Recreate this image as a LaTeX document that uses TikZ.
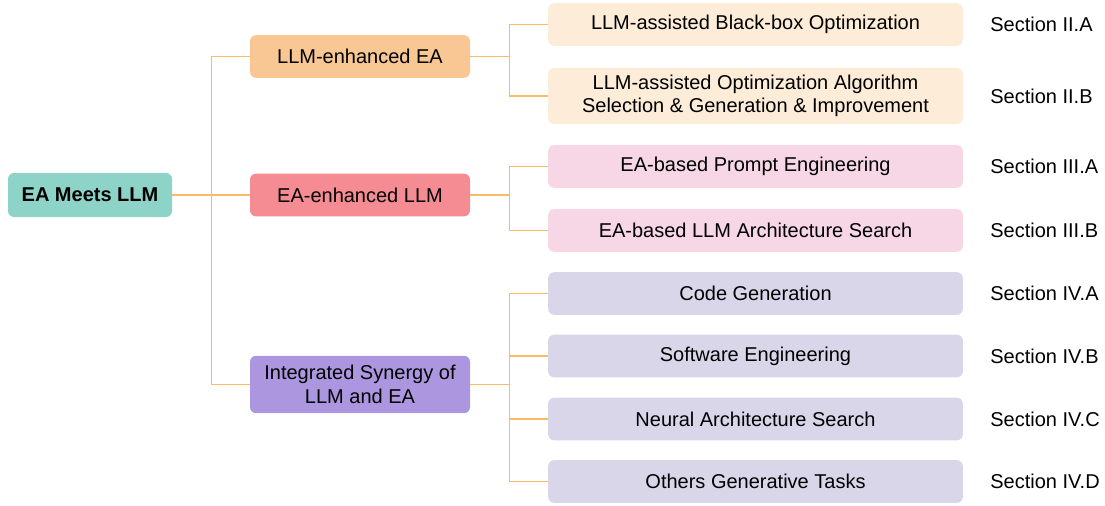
\documentclass[tikz,border=0pt]{standalone}
\usepackage{fontspec}
\setmainfont{Liberation Sans}
\definecolor{rootc}{HTML}{8DD3C7}
\definecolor{orgc}{HTML}{F9C794}
\definecolor{redc}{HTML}{F58B93}
\definecolor{purc}{HTML}{AC96DF}
\definecolor{orgl}{HTML}{FDECD7}
\definecolor{redl}{HTML}{F7D7E5}
\definecolor{purl}{HTML}{DAD6EA}
\definecolor{linec}{HTML}{FBBA64}
\begin{document}
\begin{tikzpicture}[x=0.75pt,y=-0.75pt,
	box/.style={rounded corners=4.5pt,align=center,inner sep=0pt,font=\fontsize{15}{17.5}\selectfont},
	topbox/.style={box,fill=rootc,minimum width=123pt,minimum height=33pt,font=\fontsize{15}{17.5}\selectfont\bfseries},
	midbox/.style={box,minimum width=165pt,minimum height=32pt},
	leafbox/.style={box,minimum width=311pt,minimum height=32pt},
	sec/.style={anchor=west,inner sep=0pt,font=\fontsize{15}{17.5}\selectfont},
	link/.style={draw=linec,line width=1.1pt}]
	\useasboundingbox (0,0) rectangle (1105,506);
	% root and first level
	\node[topbox] (root) at (90,195) {EA Meets LLM};
	\node[midbox,fill=orgc] (llmea) at (360,56.5) {LLM-enhanced EA};
	\node[midbox,fill=redc] (eallm) at (360,195) {EA-enhanced LLM};
	\node[midbox,fill=purc,minimum height=43pt] (syn) at (360,384.5) {Integrated Synergy of\\LLM and EA};
	% second level
	\node[leafbox,fill=orgl] (bbo) at (755.5,24.5) {LLM-assisted Black-box Optimization};
	\node[leafbox,fill=orgl,minimum height=42pt] (algo) at (755.5,96) {LLM-assisted Optimization Algorithm\\Selection \& Generation \& Improvement};
	\node[leafbox,fill=redl] (prompt) at (755.5,166.5) {EA-based Prompt Engineering};
	\node[leafbox,fill=redl] (arch) at (755.5,230.5) {EA-based LLM Architecture Search};
	\node[leafbox,fill=purl] (code) at (755.5,293.5) {Code Generation};
	\node[leafbox,fill=purl] (soft) at (755.5,356) {Software Engineering};
	\node[leafbox,fill=purl] (nas) at (755.5,419) {Neural Architecture Search};
	\node[leafbox,fill=purl] (other) at (755.5,481.5) {Others Generative Tasks};
	% section labels
	\foreach \n/\t in {bbo/II.A,algo/II.B,prompt/III.A,arch/III.B,code/IV.A,soft/IV.B,nas/IV.C,other/IV.D}
		\node[sec] (s-\n) at ([xshift=20.25pt]\n.east) {Section \t};
	% connectors
	\foreach \c in {llmea,eallm,syn}
		\draw[link] (root.east) -- ++(29.25pt,0) |- (\c.west);
	\foreach \c in {bbo,algo}
		\draw[link] (llmea.east) -- ++(29.25pt,0) |- (\c.west);
	\foreach \c in {prompt,arch}
		\draw[link] (eallm.east) -- ++(29.25pt,0) |- (\c.west);
	\foreach \c in {code,soft,nas,other}
		\draw[link] (syn.east) -- ++(29.25pt,0) |- (\c.west);
\end{tikzpicture}
\end{document}
